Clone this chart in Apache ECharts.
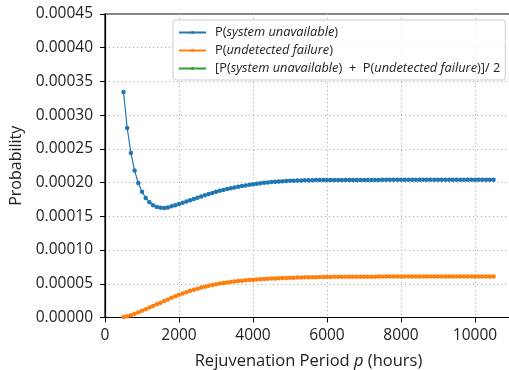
<!DOCTYPE html>
<html><head><meta charset="utf-8">
<script src="https://cdn.jsdelivr.net/npm/echarts@6/dist/echarts.min.js"></script>
<style>html,body{margin:0;padding:0;background:#fff}#c{width:509px;height:370px}</style>
</head><body><div id="c"></div>
<script>
const periods = [
  500,600,700,800,900,1000,1100,1200,1300,1400,
  1500,1600,1700,1800,1900,2000,2100,2200,2300,2400,
  2500,2600,2700,2800,2900,3000,3100,3200,3300,3400,
  3500,3600,3700,3800,3900,4000,4100,4200,4300,4400,
  4500,4600,4700,4800,4900,5000,5100,5200,5300,5400,
  5500,5600,5700,5800,5900,6000,6100,6200,6300,6400,
  6500,6600,6700,6800,6900,7000,7100,7200,7300,7400,
  7500,7600,7700,7800,7900,8000,8100,8200,8300,8400,
  8500,8600,8700,8800,8900,9000,9100,9200,9300,9400,
  9500,9600,9700,9800,9900,10000,10100,10200,10300,10400,
  10500
];
const pUnavailable = [
  3.344e-4,2.81e-4,2.44e-4,2.178e-4,1.994e-4,1.866e-4,1.772e-4,1.71e-4,1.665e-4,1.638e-4,
  1.626e-4,1.625e-4,1.632e-4,1.648e-4,1.665e-4,1.683e-4,1.701e-4,1.719e-4,1.738e-4,1.757e-4,
  1.776e-4,1.794e-4,1.812e-4,1.83e-4,1.847e-4,1.863e-4,1.878e-4,1.892e-4,1.905e-4,1.917e-4,
  1.929e-4,1.94e-4,1.95e-4,1.959e-4,1.968e-4,1.976e-4,1.984e-4,1.991e-4,1.997e-4,2.003e-4,
  2.008e-4,2.012e-4,2.016e-4,2.02e-4,2.023e-4,2.026e-4,2.028e-4,2.03e-4,2.032e-4,2.034e-4,
  2.035e-4,2.036e-4,2.037e-4,2.038e-4,2.039e-4,2.04e-4,2.04e-4,2.04e-4,2.04e-4,2.04e-4,
  2.04e-4,2.04e-4,2.04e-4,2.04e-4,2.04e-4,2.04e-4,2.04e-4,2.04e-4,2.04e-4,2.04e-4,
  2.041e-4,2.041e-4,2.041e-4,2.041e-4,2.041e-4,2.041e-4,2.041e-4,2.041e-4,2.041e-4,2.041e-4,
  2.041e-4,2.041e-4,2.041e-4,2.041e-4,2.041e-4,2.041e-4,2.041e-4,2.041e-4,2.041e-4,2.041e-4,
  2.041e-4,2.041e-4,2.041e-4,2.041e-4,2.041e-4,2.041e-4,2.041e-4,2.041e-4,2.041e-4,2.041e-4,
  2.041e-4
];
const pUndetected = [
  0.8e-6,2.0e-6,3.5e-6,5.5e-6,7.7e-6,10.0e-6,12.4e-6,14.8e-6,17.2e-6,19.6e-6,
  22.0e-6,24.4e-6,26.8e-6,29.1e-6,31.4e-6,33.6e-6,35.6e-6,37.6e-6,39.5e-6,41.2e-6,
  42.8e-6,44.3e-6,45.7e-6,47.0e-6,48.2e-6,49.3e-6,50.3e-6,51.2e-6,52.0e-6,52.7e-6,
  53.4e-6,54.0e-6,54.6e-6,55.1e-6,55.6e-6,56.0e-6,56.4e-6,56.8e-6,57.1e-6,57.4e-6,
  57.7e-6,58.0e-6,58.2e-6,58.4e-6,58.6e-6,58.8e-6,59.0e-6,59.2e-6,59.3e-6,59.5e-6,
  59.6e-6,59.7e-6,59.8e-6,59.9e-6,60.0e-6,60.1e-6,60.2e-6,60.3e-6,60.3e-6,60.4e-6,
  60.4e-6,60.5e-6,60.5e-6,60.5e-6,60.6e-6,60.6e-6,60.6e-6,60.6e-6,60.6e-6,60.7e-6,
  60.7e-6,60.7e-6,60.7e-6,60.7e-6,60.7e-6,60.7e-6,60.7e-6,60.7e-6,60.7e-6,60.7e-6,
  60.7e-6,60.7e-6,60.7e-6,60.7e-6,60.7e-6,60.7e-6,60.7e-6,60.7e-6,60.7e-6,60.7e-6,
  60.7e-6,60.7e-6,60.7e-6,60.7e-6,60.7e-6,60.7e-6,60.7e-6,60.7e-6,60.7e-6,60.7e-6,
  60.7e-6
];
const pAverage = []; // not drawn in the reference (only present in legend)
const yTicks = ['0.00000','0.00005','0.00010','0.00015','0.00020','0.00025','0.00030','0.00035','0.00040','0.00045'];
const xTicks = ['0','2000','4000','6000','8000','10000'];
const seriesNames = ['unavail', 'undet', 'avg'];

const FONT = '"Open Sans", "Noto Sans", sans-serif';
function pairs(xs, ys){ return ys.map((y,i)=>[xs[i], y]); }

const chart = echarts.init(document.getElementById('c'), null, {renderer:'canvas'});
const LF = 12.8;
const rich = {
  i: {fontStyle:'italic', fontFamily: FONT, fontSize: LF, color:'#222', lineHeight:14},
  n: {fontFamily: FONT, fontSize: LF, color:'#222', lineHeight:14}
};
chart.setOption({
  animation:false,
  backgroundColor:'#fff',
  grid:{left:105, top:14, width:407, height:303.5, containLabel:false, outerBoundsMode:'none',
        show:true, borderColor:'#000', borderWidth:1.2, backgroundColor:'transparent'},
  legend:{
    orient:'vertical', left:173, top:20, padding:[6,5,5,5], itemGap:5,
    itemWidth:27, itemHeight:4,
    borderColor:'#cccccc', borderWidth:1, borderRadius:3, backgroundColor:'rgba(255,255,255,0.85)',
    data: seriesNames,
    formatter: function(name){
      if(name==='unavail') return '{n|P(}{i|system unavailable}{n|)}';
      if(name==='undet') return '{n|P(}{i|undetected failure}{n|)}';
      return '{n|[P(}{i|system unavailable}{n|)  +  P(}{i|undetected failure}{n|)]/ 2}';
    },
    textStyle:{fontFamily:FONT, fontSize:LF, color:'#222', rich: rich, padding:[0,0,0,4]}
  },
  xAxis:{
    type:'value', min:0, max:11000, interval:2000,
    name:'{n|Rejuvenation Period }{i|p}{n| (hours)}', nameLocation:'middle', nameGap:35,
    nameTextStyle:{rich:{n:{fontFamily:FONT,fontSize:16.5,color:'#222'}, i:{fontFamily:FONT,fontSize:16.5,fontStyle:'italic',color:'#222'}}},
    axisLine:{lineStyle:{color:'#000', width:1.2}},
    axisTick:{show:true, inside:false, length:5, lineStyle:{color:'#000'}},
    axisLabel:{fontFamily:FONT, fontSize:15.5, color:'#222', margin:10, showMaxLabel:false,
      formatter:function(v){ const idx=Math.round(v/2000); return xTicks[idx]!==undefined?xTicks[idx]:String(v);} },
    splitLine:{show:true, lineStyle:{color:'#b0b0b0', type:[1.2,2.8], width:1}}
  },
  yAxis:{
    type:'value', min:0, max:0.00045, interval:0.00005,
    name:'Probability', nameLocation:'middle', nameGap:80,
    nameTextStyle:{fontFamily:FONT, fontSize:16, color:'#222'},
    axisLine:{show:true, lineStyle:{color:'#000', width:1.2}},
    axisTick:{show:true, inside:false, length:5, lineStyle:{color:'#000'}},
    axisLabel:{fontFamily:FONT, fontSize:15.5, color:'#222', margin:12,
      formatter:function(v){ const idx=Math.round(v/0.00005); return yTicks[idx]!==undefined?yTicks[idx]:v.toFixed(5);} },
    splitLine:{show:true, lineStyle:{color:'#b0b0b0', type:[1.2,2.8], width:1}}
  },
  series:[
    {name:'unavail', type:'line', data:pairs(periods,pUnavailable), color:'#1f77b4',
     symbol:'circle', symbolSize:4.5, showSymbol:true, lineStyle:{width:1.2}, itemStyle:{color:'#1f77b4'}},
    {name:'undet', type:'line', data:pairs(periods,pUndetected), color:'#ff7f0e',
     symbol:'circle', symbolSize:4.5, showSymbol:true, lineStyle:{width:1.2}, itemStyle:{color:'#ff7f0e'}},
    {name:'avg', type:'line', data:pairs(periods,pAverage), color:'#2ca02c',
     symbol:'circle', symbolSize:4.5, lineStyle:{width:1.2}, itemStyle:{color:'#2ca02c'}}
  ]
});
</script></body></html>
